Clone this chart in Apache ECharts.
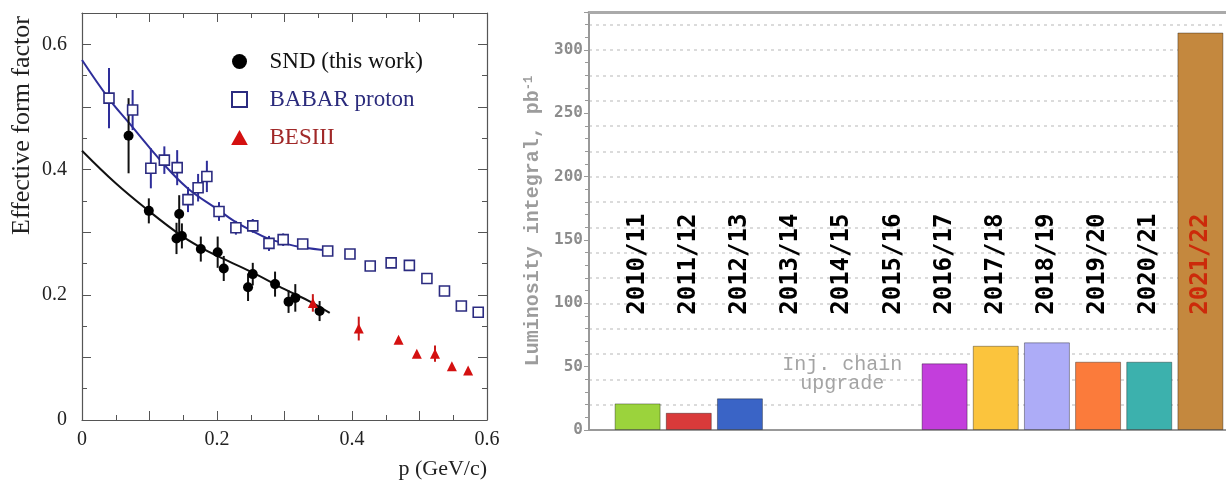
<!DOCTYPE html>
<html><head><meta charset="utf-8">
<script src="https://cdn.jsdelivr.net/npm/echarts@6/dist/echarts.min.js"></script>
<style>html,body{margin:0;padding:0;background:#fff}#c{width:1226px;height:484px}</style>
</head><body><div id="c"></div>
<script>
// ---------- Left panel: effective form factor ----------
const sndX   = [0.069, 0.099, 0.144, 0.140, 0.148, 0.176, 0.201, 0.210, 0.246, 0.253, 0.286, 0.306, 0.316, 0.352];
const sndY   = [0.454, 0.334, 0.329, 0.290, 0.294, 0.273, 0.268, 0.242, 0.212, 0.233, 0.217, 0.189, 0.195, 0.174];
const sndErr = [0.060, 0.020, 0.030, 0.025, 0.020, 0.020, 0.025, 0.020, 0.022, 0.018, 0.020, 0.018, 0.022, 0.016];

const babarX   = [0.040, 0.075, 0.102, 0.122, 0.141, 0.157, 0.172, 0.185, 0.203, 0.228, 0.253, 0.277, 0.298, 0.327, 0.364, 0.397, 0.427, 0.458, 0.485, 0.511, 0.537, 0.562, 0.587];
const babarY   = [0.514, 0.495, 0.402, 0.415, 0.403, 0.352, 0.371, 0.389, 0.333, 0.307, 0.310, 0.282, 0.288, 0.281, 0.270, 0.265, 0.246, 0.251, 0.247, 0.226, 0.206, 0.182, 0.172];
const babarErr = [0.048, 0.032, 0.032, 0.022, 0.028, 0.020, 0.022, 0.025, 0.015, 0.011, 0.011, 0.012, 0.010, 0.007, 0, 0, 0, 0, 0, 0, 0, 0, 0];

const besX   = [0.342, 0.410, 0.469, 0.496, 0.523, 0.548, 0.572];
const besY   = [0.187, 0.146, 0.128, 0.106, 0.106, 0.086, 0.079];
const besErr = [0.014, 0.019, 0.004, 0, 0.013, 0, 0];

const sndFitX = [0, 0.05, 0.1, 0.145, 0.175, 0.2, 0.25, 0.3, 0.34, 0.367];
const sndFitY = [0.430, 0.378, 0.333, 0.296, 0.276, 0.262, 0.237, 0.209, 0.188, 0.171];
const babarFitX = [0, 0.04, 0.07, 0.1, 0.13, 0.16, 0.2, 0.225, 0.25, 0.275, 0.3, 0.325, 0.365];
const babarFitY = [0.575, 0.513, 0.474, 0.435, 0.398, 0.367, 0.337, 0.318, 0.303, 0.290, 0.282, 0.276, 0.271];

const xTickLabels = ['0', '0.2', '0.4', '0.6'];
const yTickLabels = ['0', '0.2', '0.4', '0.6'];

// ---------- Right panel: luminosity per season ----------
const seasons = ['2010/11','2011/12','2012/13','2013/14','2014/15','2015/16','2016/17','2017/18','2018/19','2019/20','2020/21','2021/22'];
const lumi    = [21, 13.6, 25, null, null, null, 52.6, 66.5, 69.2, 53.9, 53.9, 313.8];
const barColors = ['#9bd33c','#d93a3a','#3a64c6','#fff','#fff','#fff','#c33edc','#fbc43d','#adacf7','#fb7b3b','#3cb1ad','#c4883e'];
const lumiTicks = [0, 50, 100, 150, 200, 250, 300];
const annotText = 'Inj. chain\nupgrade';
const annotPos = [4, 44];

const serif = 'Liberation Serif';
const mono = 'Liberation Mono';

function pairs(xs, ys) { return xs.map((x, i) => [x, ys[i]]); }
function errSeries(xs, ys, es, color) {
  return {
    type: 'custom', xAxisIndex: 0, yAxisIndex: 0, silent: true, z: 2,
    encode: { x: 0, y: [1, 2] },
    data: xs.map((x, i) => [x, ys[i] - es[i], ys[i] + es[i]]),
    renderItem(params, api) {
      const p1 = api.coord([api.value(0), api.value(1)]);
      const p2 = api.coord([api.value(0), api.value(2)]);
      return { type: 'line', shape: { x1: p1[0], y1: p1[1], x2: p2[0], y2: p2[1] },
               style: { stroke: color, lineWidth: 2 } };
    }
  };
}
function pickLabel(v, step, labels) {
  const k = v / step;
  return Math.abs(k - Math.round(k)) < 1e-6 && labels[Math.round(k)] !== undefined ? labels[Math.round(k)] : '';
}

const frameColor = '#555';
const chart = echarts.init(document.getElementById('c'), null, { renderer: 'canvas' });
chart.setOption({
  animation: false,
  backgroundColor: '#fff',
  grid: [
    { left: 82, top: 13, width: 405, height: 407 },
    { left: 589, top: 12, width: 637, height: 418 }
  ],
  legend: {
    orient: 'vertical', left: 226, top: 45, itemWidth: 50, itemHeight: 15, itemGap: 15,
    textStyle: { fontFamily: serif, fontSize: 23 },
    data: [
      { name: 'SND (this work)', icon: 'circle', textStyle: { color: '#111' } },
      { name: 'BABAR proton', icon: 'path://M0,0H10V10H0Z', textStyle: { color: '#2b2b7c' } },
      { name: 'BESIII', icon: 'path://M5,0L10,9L0,9Z', textStyle: { color: '#a02828' } }
    ]
  },
  xAxis: [
    { type: 'value', gridIndex: 0, min: 0, max: 0.6, interval: 0.1, position: 'bottom',
      axisLine: { onZero: false, lineStyle: { color: frameColor, width: 1.2 } },
      axisTick: { inside: true, length: 9, lineStyle: { color: frameColor } },
      minorTick: { show: true, splitNumber: 2, length: 5, lineStyle: { color: frameColor } },
      axisLabel: { formatter: v => pickLabel(v, 0.2, xTickLabels), margin: 10, fontFamily: serif, fontSize: 20, color: '#222' },
      splitLine: { show: false },
      name: 'p (GeV/c)', nameLocation: 'end', nameGap: 0,
      nameTextStyle: { fontFamily: serif, fontSize: 22, color: '#222', align: 'right', verticalAlign: 'top', padding: [38, 0, 0, 0] } },
    { type: 'value', gridIndex: 0, min: 0, max: 0.6, interval: 0.1, position: 'top',
      axisLine: { onZero: false, lineStyle: { color: frameColor, width: 1.2 } },
      axisTick: { inside: true, length: 9, lineStyle: { color: frameColor } },
      minorTick: { show: true, splitNumber: 2, length: 5, lineStyle: { color: frameColor } },
      axisLabel: { show: false }, splitLine: { show: false } },
    { type: 'value', gridIndex: 1, min: -0.95, max: 11.5, position: 'bottom',
      axisLine: { onZero: false, lineStyle: { color: '#999', width: 2 } },
      axisTick: { show: false }, axisLabel: { show: false }, splitLine: { show: false } },
    { type: 'value', gridIndex: 1, min: -0.95, max: 11.5, position: 'top',
      axisLine: { onZero: false, lineStyle: { color: '#aaa', width: 3 } },
      axisTick: { show: false }, axisLabel: { show: false }, splitLine: { show: false } }
  ],
  yAxis: [
    { type: 'value', gridIndex: 0, min: 0, max: 0.65, interval: 0.1, position: 'left',
      axisLine: { show: true, onZero: false, lineStyle: { color: frameColor, width: 1.2 } },
      axisTick: { inside: true, length: 9, lineStyle: { color: frameColor } },
      minorTick: { show: true, splitNumber: 2, length: 5, lineStyle: { color: frameColor } },
      axisLabel: { formatter: v => pickLabel(v, 0.2, yTickLabels), margin: 15, fontFamily: serif, fontSize: 20, color: '#222' },
      splitLine: { show: false },
      name: 'Effective form factor', nameLocation: 'middle', nameGap: 47,
      nameTextStyle: { fontFamily: serif, fontSize: 26, color: '#222', padding: [0, 0, 0, 182] } },
    { type: 'value', gridIndex: 0, min: 0, max: 0.65, interval: 0.1, position: 'right',
      axisLine: { show: true, onZero: false, lineStyle: { color: frameColor, width: 1.2 } },
      axisTick: { inside: true, length: 9, lineStyle: { color: frameColor } },
      minorTick: { show: true, splitNumber: 2, length: 5, lineStyle: { color: frameColor } },
      axisLabel: { show: false }, splitLine: { show: false } },
    { type: 'value', gridIndex: 1, min: 0, max: 330, interval: 50, position: 'left',
      axisLine: { show: true, onZero: false, lineStyle: { color: '#999', width: 2 } },
      axisTick: { show: true, length: 5, lineStyle: { color: '#999' } },
      minorTick: { show: true, splitNumber: 5, length: 4, lineStyle: { color: '#999' } },
      axisLabel: { formatter: v => (lumiTicks.indexOf(v) >= 0 ? String(v) : ''), margin: 6,
                   fontFamily: 'DejaVu Sans Mono', fontWeight: 'bold', fontSize: 16, color: '#8c8c8c' },
      splitLine: { show: false },
      name: '{a|Luminosity integral, pb}{s|-1}', nameLocation: 'middle', nameGap: 46,
      nameTextStyle: { rich: {
        a: { fontFamily: mono, fontWeight: 'bold', fontSize: 20, color: '#9c9c9c' },
        s: { fontFamily: mono, fontWeight: 'bold', fontSize: 12, color: '#9c9c9c', verticalAlign: 'top' } } } },
    { type: 'value', gridIndex: 1, min: 0, max: 330, interval: 20, position: 'left',
      axisLine: { show: false, onZero: false }, axisTick: { show: false }, axisLabel: { show: false },
      splitLine: { show: true, lineStyle: { color: '#cfcfcf', width: 1.5, type: [3, 4] } } }
  ],
  series: [
    { name: 'SND fit', type: 'line', xAxisIndex: 0, yAxisIndex: 0, data: pairs(sndFitX, sndFitY),
      smooth: 0.4, showSymbol: false, lineStyle: { color: '#111', width: 2 }, z: 1, silent: true },
    { name: 'BABAR fit', type: 'line', xAxisIndex: 0, yAxisIndex: 0, data: pairs(babarFitX, babarFitY),
      smooth: 0.4, showSymbol: false, lineStyle: { color: '#2e2e9a', width: 2 }, z: 1, silent: true },
    errSeries(sndX, sndY, sndErr, '#111'),
    errSeries(babarX, babarY, babarErr, '#2e2e9a'),
    errSeries(besX, besY, besErr, '#c81818'),
    { name: 'SND (this work)', type: 'scatter', xAxisIndex: 0, yAxisIndex: 0, data: pairs(sndX, sndY),
      symbol: 'circle', symbolSize: 10, itemStyle: { color: '#000', opacity: 1 }, z: 4 },
    { name: 'BABAR proton', type: 'scatter', xAxisIndex: 0, yAxisIndex: 0, data: pairs(babarX, babarY),
      symbol: 'rect', symbolSize: 10, itemStyle: { color: '#fff', borderColor: '#2b2b80', borderWidth: 1.6, opacity: 1 }, z: 4 },
    { name: 'BESIII', type: 'scatter', xAxisIndex: 0, yAxisIndex: 0, data: pairs(besX, besY),
      symbol: 'triangle', symbolSize: 10, itemStyle: { color: '#d41010', opacity: 1 }, z: 4 },
    { name: 'Luminosity', type: 'bar', xAxisIndex: 2, yAxisIndex: 2, barWidth: 46,
      data: lumi.map((v, i) => v === null ? null : { value: [i, v], itemStyle: { color: barColors[i] } }).filter(d => d),
      itemStyle: { borderColor: 'rgba(0,0,0,0.35)', borderWidth: 1 }, z: 3 },
    { name: 'Season labels', type: 'scatter', xAxisIndex: 2, yAxisIndex: 2, symbolSize: 1, silent: true,
      itemStyle: { color: 'rgba(0,0,0,0)', opacity: 1 }, z: 5,
      data: seasons.map((s, i) => ({ value: [i, 91], label: { color: i === seasons.length - 1 ? '#cc2a0a' : '#000' } })),
      label: { show: true, position: 'inside', rotate: 90, align: 'left', verticalAlign: 'middle',
               formatter: p => seasons[p.dataIndex], fontFamily: 'DejaVu Sans Mono', fontWeight: 'bold', fontSize: 24 } },
    { name: 'Annotation', type: 'scatter', xAxisIndex: 2, yAxisIndex: 2, symbolSize: 1, silent: true,
      itemStyle: { color: 'rgba(0,0,0,0)', opacity: 1 }, z: 5, data: [annotPos],
      label: { show: true, position: 'inside', formatter: annotText, fontFamily: mono, fontSize: 20,
               lineHeight: 19, color: '#a4a4a4', align: 'center', verticalAlign: 'middle' } }
  ]
});
</script></body></html>
